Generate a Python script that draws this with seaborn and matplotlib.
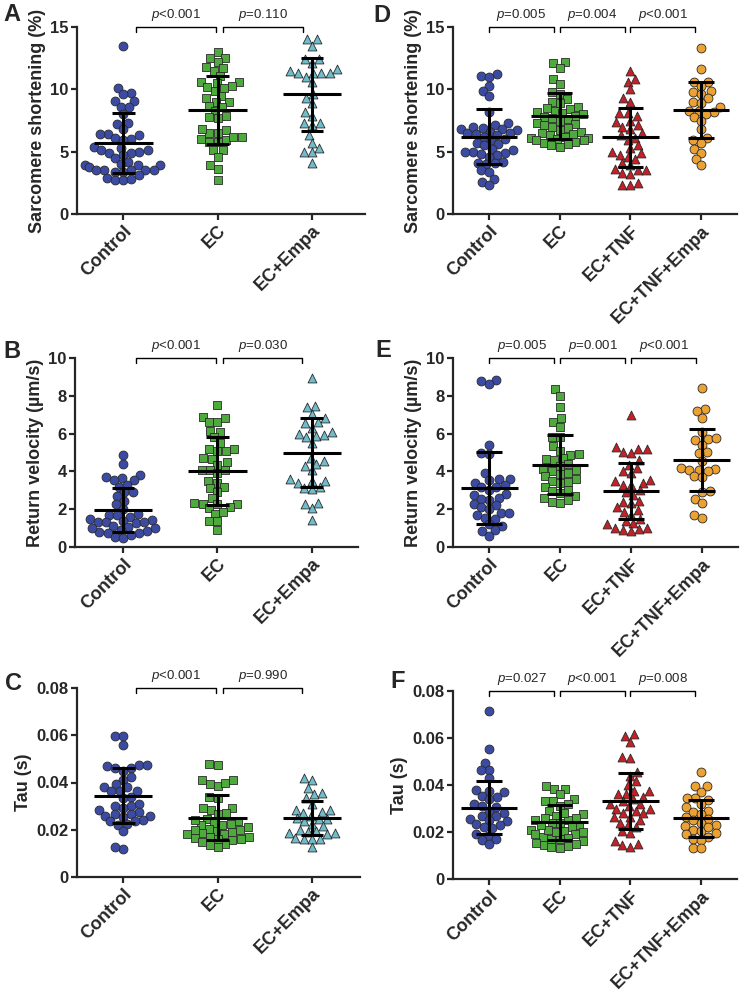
import matplotlib
matplotlib.use("Agg")
import matplotlib.pyplot as plt
import numpy as np
import pandas as pd
import seaborn as sns

# ---- data ----
groups_left = ["Control", "EC", "EC+Empa"]
groups_right = ["Control", "EC", "EC+TNF", "EC+TNF+Empa"]

# A: sarcomere shortening (%)
a_control = [13.5, 10.1, 9.7, 9.6, 9.1, 9.1, 8.6, 8.6, 8.0, 7.3, 7.2, 6.8, 6.4, 6.4, 6.3, 6.0, 6.1,
             5.9, 5.4, 5.3, 5.1, 5.1, 5.0, 4.9, 4.9, 4.7, 4.5, 4.2, 4.0, 3.9, 3.9, 3.9, 3.8, 3.5,
             3.5, 3.5, 3.5, 3.4, 3.4, 3.5, 3.1, 2.9, 2.7, 2.7, 2.8]
a_ec = [13.0, 12.5, 12.5, 12.2, 11.8, 11.5, 11.7, 11.1, 10.6, 10.3, 10.5, 10.6, 10.1, 10.2, 9.9,
        9.5, 9.3, 9.0, 9.0, 8.6, 8.7, 8.3, 7.9, 7.8, 7.7, 6.5, 6.8, 6.7, 6.5, 5.9, 5.8, 6.2, 6.2,
        5.8, 6.0, 5.1, 5.1, 4.6, 3.9, 3.6, 2.7]
a_empa = [14.0, 14.0, 13.5, 12.1, 12.4, 12.4, 11.3, 11.3, 11.5, 11.6, 11.0, 11.3, 11.3, 10.6, 9.6,
          9.3, 8.9, 8.2, 7.9, 7.3, 7.1, 7.3, 6.3, 5.7, 5.3, 5.0, 5.0, 4.1]
a_means = [5.68, 8.34, 9.62]
a_sds = [2.40, 2.72, 2.93]
a_pvals = ["<0.001", "=0.110"]

# B: return velocity (um/s)
b_control = [4.85, 4.4, 3.7, 3.65, 3.55, 3.8, 3.55, 3.2, 3.3, 2.9, 2.9, 2.7, 2.45, 2.25, 2.0, 1.75,
             1.7, 1.6, 1.7, 1.5, 1.45, 1.4, 1.3, 1.3, 1.25, 1.3, 1.1, 1.0, 1.05, 0.9, 0.85, 0.75,
             0.8, 0.75, 0.55, 0.5, 0.65, 1.0]
b_ec = [7.5, 6.9, 6.8, 6.6, 6.6, 6.15, 6.1, 5.8, 5.5, 5.2, 5.1, 5.1, 5.2, 4.65, 4.7, 4.5, 4.35,
        4.1, 4.1, 4.1, 3.9, 3.5, 3.4, 3.15, 3.1, 2.9, 2.6, 2.35, 2.3, 2.3, 2.3, 2.1, 2.05, 1.85,
        1.75, 1.4, 1.35, 0.9]
b_empa = [8.95, 7.45, 7.4, 7.05, 6.8, 6.6, 6.55, 6.3, 6.1, 6.0, 5.8, 5.85, 5.95, 5.5, 4.7, 4.55,
          4.4, 4.3, 4.05, 3.6, 3.5, 3.5, 3.4, 3.2, 3.05, 3.1, 2.3, 2.35, 2.05, 1.45]
b_means = [1.98, 4.02, 4.99]
b_sds = [1.16, 1.78, 1.83]
b_pvals = ["<0.001", "=0.030"]

# C: tau (s)
c_control = [0.0595, 0.0595, 0.056, 0.047, 0.0475, 0.046, 0.0475, 0.046, 0.045, 0.0425, 0.041,
             0.0395, 0.038, 0.038, 0.0365, 0.0365, 0.0365, 0.034, 0.0335, 0.031, 0.030, 0.030,
             0.029, 0.0285, 0.0275, 0.0265, 0.0265, 0.026, 0.026, 0.0255, 0.024, 0.0235, 0.0235,
             0.022, 0.0225, 0.0195, 0.012, 0.0125]
c_ec = [0.048, 0.0475, 0.041, 0.041, 0.0395, 0.0385, 0.040, 0.034, 0.0335, 0.029, 0.0285, 0.029,
        0.027, 0.0265, 0.0245, 0.0235, 0.023, 0.0225, 0.022, 0.021, 0.0205, 0.020, 0.0195, 0.019,
        0.0185, 0.018, 0.017, 0.017, 0.0165, 0.016, 0.0155, 0.015, 0.014, 0.0135, 0.0125, 0.022,
        0.020, 0.018, 0.024, 0.016]
c_empa = [0.042, 0.041, 0.0375, 0.0355, 0.035, 0.0335, 0.031, 0.0285, 0.0285, 0.0275, 0.027, 0.026,
          0.0245, 0.0245, 0.025, 0.0235, 0.0225, 0.0215, 0.020, 0.019, 0.0195, 0.0185, 0.0185,
          0.018, 0.016, 0.016, 0.0165, 0.016, 0.0125]
c_means = [0.0344, 0.0251, 0.0248]
c_sds = [0.0117, 0.0094, 0.0072]
c_pvals = ["<0.001", "=0.990"]

# D: sarcomere shortening (%)
d_control = [11.1, 11.2, 11.0, 10.3, 9.9, 9.5, 8.2, 7.3, 7.1, 7.0, 6.9, 6.8, 6.8, 6.7, 6.6, 6.5,
             6.5, 6.4, 6.3, 6.2, 6.0, 5.9, 5.7, 5.6, 5.5, 5.2, 5.1, 5.0, 5.0, 4.9, 4.8, 4.7, 4.6,
             4.2, 4.1, 4.1, 4.0, 3.5, 3.4, 2.8, 2.6, 2.3]
d_ec = [12.2, 12.1, 11.7, 10.8, 10.4, 9.8, 9.6, 9.2, 9.0, 8.9, 8.6, 8.5, 8.4, 8.3, 8.2, 8.1, 8.0,
        7.9, 7.8, 7.7, 7.6, 7.5, 7.3, 7.2, 7.1, 7.0, 6.9, 6.7, 6.6, 6.5, 6.4, 6.3, 6.2, 6.1, 6.1,
        6.0, 5.9, 5.9, 5.8, 5.7, 5.6, 5.5, 5.4]
d_tnf = [11.5, 10.8, 10.6, 10.0, 9.3, 9.0, 8.1, 8.1, 7.9, 7.5, 7.4, 7.1, 7.0, 6.8, 6.5, 6.3, 6.1,
         5.9, 5.5, 5.3, 5.0, 4.9, 4.7, 4.6, 4.4, 4.1, 3.9, 3.6, 3.5, 3.5, 3.3, 3.2, 2.5, 2.3, 2.3]
d_tnfempa = [13.3, 11.6, 10.6, 10.6, 10.3, 9.9, 9.8, 9.6, 9.3, 9.0, 8.9, 8.6, 8.3, 8.2, 8.3, 8.0,
             7.8, 7.5, 6.8, 6.1, 5.9, 5.7, 5.2, 4.9, 4.4, 3.9]
d_means = [6.20, 7.86, 6.15, 8.34]
d_sds = [2.22, 1.86, 2.35, 2.23]
d_pvals = ["=0.005", "=0.004", "<0.001"]

# E: return velocity (um/s)
e_control = [8.85, 8.65, 8.8, 5.4, 4.95, 4.9, 3.9, 3.6, 3.6, 3.55, 3.4, 3.3, 3.2, 3.15, 3.0, 2.8,
             2.75, 2.6, 2.5, 2.55, 2.3, 2.2, 2.1, 2.0, 1.8, 1.8, 1.7, 1.55, 1.5, 1.2, 1.1, 0.9,
             0.85, 0.6]
e_ec = [8.35, 8.0, 7.4, 6.8, 6.6, 6.35, 5.8, 5.8, 5.35, 5.1, 4.9, 4.85, 4.7, 4.6, 4.65, 4.4, 4.3,
        4.15, 4.05, 4.0, 3.9, 3.85, 3.75, 3.6, 3.5, 3.45, 3.4, 3.15, 3.0, 2.95, 2.85, 2.7, 2.6,
        2.5, 2.4, 2.35]
e_tnf = [7.0, 5.3, 5.2, 5.2, 5.05, 5.0, 4.6, 4.35, 4.2, 4.0, 3.9, 3.55, 3.5, 3.4, 3.3, 3.3, 3.0,
         2.9, 2.75, 2.45, 2.4, 2.35, 2.1, 1.95, 1.85, 1.7, 1.5, 1.4, 1.25, 1.2, 1.0, 1.0, 0.9,
         0.85, 0.95]
e_tnfempa = [8.4, 7.3, 7.2, 6.85, 6.1, 5.7, 5.75, 5.65, 5.4, 5.05, 4.95, 4.55, 4.2, 4.15, 4.1,
             4.1, 4.0, 3.75, 3.7, 2.95, 2.9, 2.55, 2.35, 1.7, 1.55]
e_means = [3.12, 4.36, 2.95, 4.59]
e_sds = [1.90, 1.55, 1.47, 1.63]
e_pvals = ["=0.005", "=0.001", "<0.001"]

# F: tau (s)
f_control = [0.0715, 0.0555, 0.0495, 0.0465, 0.0465, 0.043, 0.038, 0.037, 0.0375, 0.0355, 0.035,
             0.034, 0.032, 0.031, 0.0305, 0.029, 0.028, 0.027, 0.027, 0.0255, 0.0245, 0.025,
             0.0235, 0.023, 0.022, 0.0215, 0.019, 0.0185, 0.017, 0.0165, 0.015]
f_ec = [0.0395, 0.0385, 0.0385, 0.036, 0.034, 0.033, 0.033, 0.031, 0.029, 0.0275, 0.027, 0.026,
        0.025, 0.025, 0.024, 0.023, 0.022, 0.021, 0.0205, 0.020, 0.019, 0.018, 0.0175, 0.017,
        0.016, 0.0155, 0.015, 0.0145, 0.014, 0.0135, 0.013, 0.032, 0.028, 0.024, 0.021, 0.019,
        0.017, 0.026, 0.023, 0.020]
f_tnf = [0.061, 0.0615, 0.0585, 0.052, 0.0515, 0.0455, 0.044, 0.0415, 0.040, 0.0375, 0.0375,
         0.036, 0.035, 0.034, 0.032, 0.032, 0.031, 0.030, 0.029, 0.028, 0.0265, 0.0265, 0.025,
         0.024, 0.023, 0.022, 0.0205, 0.0195, 0.016, 0.015, 0.0145, 0.0135, 0.033, 0.036, 0.028,
         0.030]
f_tnfempa = [0.0455, 0.0395, 0.0395, 0.037, 0.0345, 0.0345, 0.0335, 0.032, 0.0305, 0.029, 0.0285,
             0.0275, 0.0265, 0.0255, 0.024, 0.023, 0.0225, 0.021, 0.0205, 0.019, 0.018, 0.017,
             0.0165, 0.013, 0.013, 0.025, 0.022, 0.0195]
f_means = [0.0303, 0.0241, 0.0333, 0.0258]
f_sds = [0.0112, 0.0075, 0.0120, 0.0078]
f_pvals = ["=0.027", "<0.001", "=0.008"]

colors = {"Control": "#3B4BA3", "EC": "#4EAA3C", "EC+Empa": "#70BCCB",
          "EC+TNF": "#C42027", "EC+TNF+Empa": "#EBA232"}
markers = {"Control": "o", "EC": "s", "EC+Empa": "^", "EC+TNF": "^", "EC+TNF+Empa": "o"}

SWARM_SIZE = 5.1   # size used to lay the swarm out (points overlap a little, as in Prism)
MARKER_SIZE = 6.4  # size the markers are finally drawn at

sns.set_style("ticks")
plt.rcParams["font.family"] = ["Liberation Sans", "DejaVu Sans"]
plt.rcParams["mathtext.fontset"] = "custom"
plt.rcParams["mathtext.it"] = "Liberation Sans:italic"
plt.rcParams["mathtext.rm"] = "Liberation Sans"

fig = plt.figure(figsize=(7.41, 9.90), dpi=100)
W, H = 741, 990


def add_axes_px(left, top, right, bottom):
    return fig.add_axes([left / W, 1 - bottom / H, (right - left) / W, (bottom - top) / H])


def draw_panel(ax, groups, data, means, sds, pvals, ylim, yticks, yticklabels, ylabel,
               xlim, brackets, mean_half, cap_half):
    for g, vals in zip(groups, data):
        df = pd.DataFrame({"group": g, "value": vals})
        sns.swarmplot(data=df, x="group", y="value", order=groups, color=colors[g],
                      marker=markers[g], size=SWARM_SIZE, edgecolor="#2a2a2a", linewidth=0.6,
                      ax=ax, zorder=3)
    for i, (m, s) in enumerate(zip(means, sds)):
        ax.hlines(m, i - mean_half, i + mean_half, color="black", lw=2.2, zorder=5)
        ax.vlines(i, m - s, m + s, color="black", lw=2.2, zorder=5)
        ax.hlines([m - s, m + s], i - cap_half, i + cap_half, color="black", lw=2.2, zorder=5)

    ax.set_xlim(*xlim)
    ax.set_ylim(*ylim)
    ax.set_yticks(yticks)
    ax.set_yticklabels(yticklabels, fontsize=12, fontweight="bold")
    ax.set_xticks(range(len(groups)))
    ax.set_xticklabels(groups, rotation=45, ha="right", rotation_mode="anchor",
                       fontsize=13, fontweight="bold")
    ax.set_xlabel("")
    ax.set_ylabel(ylabel, fontsize=13, fontweight="bold", labelpad=3)
    sns.despine(ax=ax)
    for sp in ["left", "bottom"]:
        ax.spines[sp].set_linewidth(1.6)
    ax.tick_params(direction="out", length=4, width=1.6, pad=2)

    top = ylim[1]
    drop = 0.028 * (ylim[1] - ylim[0])
    for (x0, x1), p in zip(brackets, pvals):
        ax.plot([x0, x0, x1, x1], [top - drop, top, top, top - drop], color="black",
                lw=1.0, clip_on=False, zorder=6)
        ax.annotate(f"$p${p}", xy=((x0 + x1) / 2, top), xytext=(0, 3),
                    textcoords="offset points", ha="center", va="bottom", fontsize=9.5)


left_br = [(0.14, 0.98), (1.06, 1.90)]
right_br = [(0.0, 0.92), (1.0, 1.92), (2.0, 2.92)]

ax_a = add_axes_px(77, 27, 365, 214)
draw_panel(ax_a, groups_left, [a_control, a_ec, a_empa], a_means, a_sds, a_pvals,
           (0, 15), [0, 5, 10, 15], ["0", "5", "10", "15"], "Sarcomere shortening (%)",
           (-0.49, 2.56), left_br, 0.31, 0.12)

ax_b = add_axes_px(75, 358, 358, 547)
draw_panel(ax_b, groups_left, [b_control, b_ec, b_empa], b_means, b_sds, b_pvals,
           (0, 10), [0, 2, 4, 6, 8, 10], ["0", "2", "4", "6", "8", "10"],
           "Return velocity (µm/s)", (-0.51, 2.49), left_br, 0.31, 0.12)

ax_c = add_axes_px(77, 688, 360, 877)
draw_panel(ax_c, groups_left, [c_control, c_ec, c_empa], c_means, c_sds, c_pvals,
           (0, 0.08), [0, 0.02, 0.04, 0.06, 0.08], ["0", "0.02", "0.04", "0.06", "0.08"],
           "Tau (s)", (-0.49, 2.51), left_br, 0.31, 0.12)

ax_d = add_axes_px(453, 27, 737, 214)
draw_panel(ax_d, groups_right, [d_control, d_ec, d_tnf, d_tnfempa], d_means, d_sds, d_pvals,
           (0, 15), [0, 5, 10, 15], ["0", "5", "10", "15"], "Sarcomere shortening (%)",
           (-0.51, 3.51), right_br, 0.40, 0.18)

ax_e = add_axes_px(453, 358, 738, 547)
draw_panel(ax_e, groups_right, [e_control, e_ec, e_tnf, e_tnfempa], e_means, e_sds, e_pvals,
           (0, 10), [0, 2, 4, 6, 8, 10], ["0", "2", "4", "6", "8", "10"],
           "Return velocity (µm/s)", (-0.51, 3.51), right_br, 0.40, 0.18)

ax_f = add_axes_px(453, 691, 737, 879)
draw_panel(ax_f, groups_right, [f_control, f_ec, f_tnf, f_tnfempa], f_means, f_sds, f_pvals,
           (0, 0.08), [0, 0.02, 0.04, 0.06, 0.08], ["0", "0.02", "0.04", "0.06", "0.08"],
           "Tau (s)", (-0.51, 3.51), right_br, 0.40, 0.18)

for letter, x, y in [("A", 3, 3), ("B", 3, 340), ("C", 5, 672),
                     ("D", 373, 4), ("E", 375, 339), ("F", 390, 670)]:
    fig.text(x / W, 1 - y / H, letter, ha="left", va="top", fontsize=17, fontweight="bold")

# lay the swarms out once, then freeze positions and draw the markers at full size
fig.canvas.draw()
for ax in fig.axes:
    for coll in ax.collections:
        if "draw" in coll.__dict__:
            del coll.draw
            coll.set_sizes([MARKER_SIZE ** 2])

fig.savefig("out.png", dpi=100)
